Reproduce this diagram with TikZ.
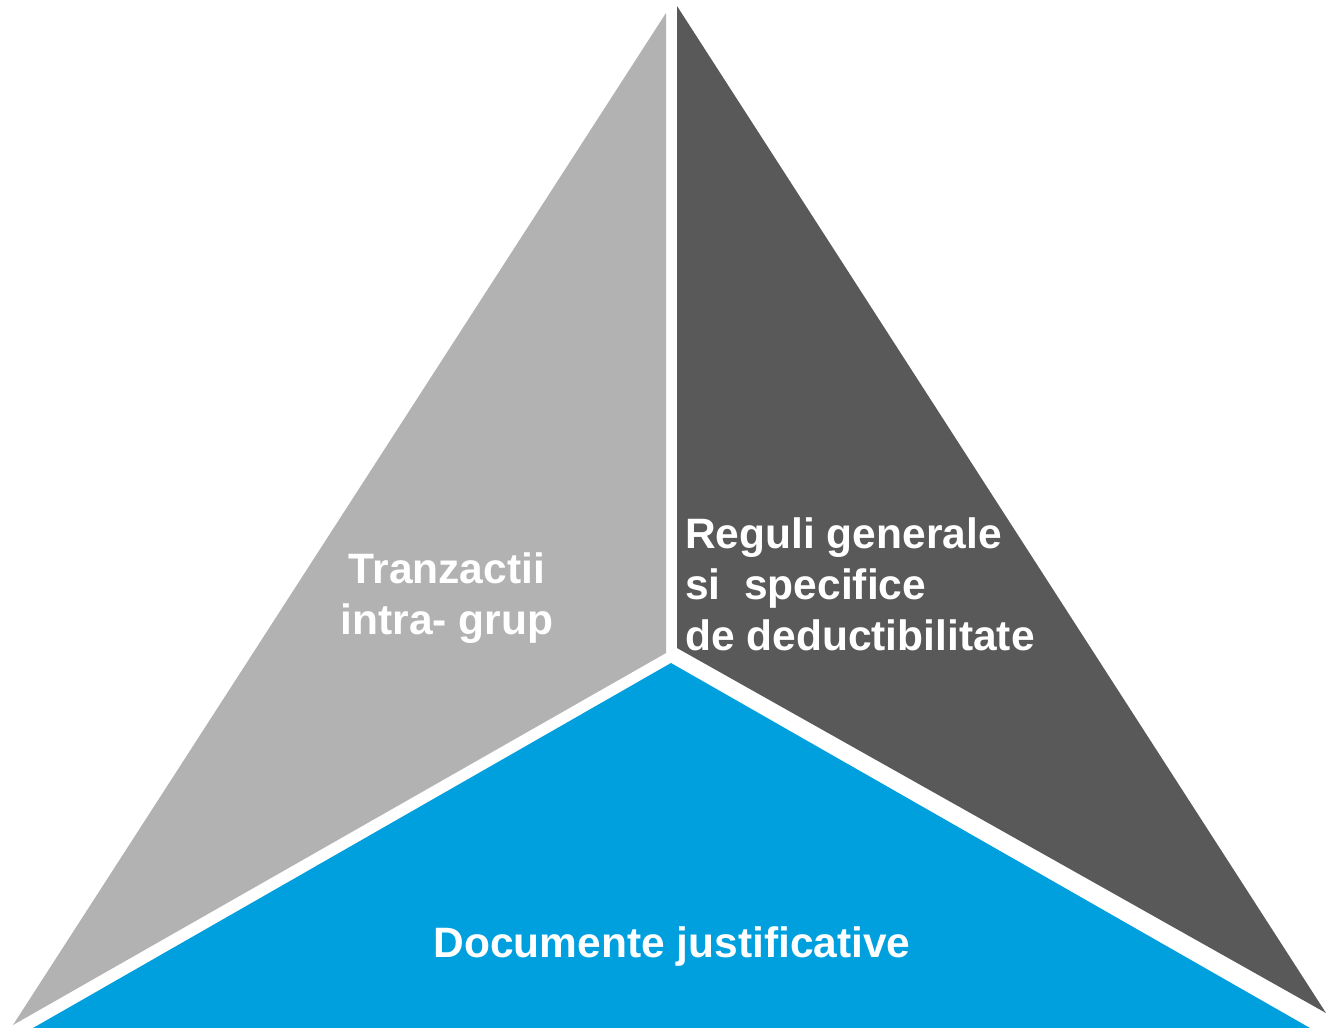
\documentclass[tikz,border=0pt]{standalone}
\usepackage{fontspec}
\setmainfont{Liberation Sans}
\definecolor{lightgrey}{HTML}{B2B2B2}
\definecolor{darkgrey}{HTML}{595959}
\definecolor{cblue}{HTML}{00A0DF}
\begin{document}
\begin{tikzpicture}[x=1pt,y=-1pt,
  lbl/.style={text=white,font=\fontsize{42.5}{51}\selectfont\bfseries,inner sep=0pt,anchor=base}]
\useasboundingbox (0,0) rectangle (1326,1028);
\fill[white] (0,0) rectangle (1326,1028);
% left grey
\fill[lightgrey] (666,13) -- (666,653) -- (13,1025) -- cycle;
% right dark
\fill[darkgrey] (677,6) -- (1326,1013) -- (677,648) -- cycle;
% bottom blue
\fill[cblue] (671,663) -- (1310,1028) -- (33,1028) -- cycle;
\node[lbl] (t1) at (447,583) {Tranzactii};
\node[lbl] (t2) at (447,634) {intra- grup};
\node[lbl,anchor=base west] (r1) at (685,548) {Reguli generale};
\node[lbl,anchor=base west] (r2) at (685,599) {si\ \ specifice};
\node[lbl,anchor=base west] (r3) at (685,650) {de deductibilitate};
\node[lbl] (d) at (672,957) {Documente justificative};
\end{tikzpicture}
\end{document}
